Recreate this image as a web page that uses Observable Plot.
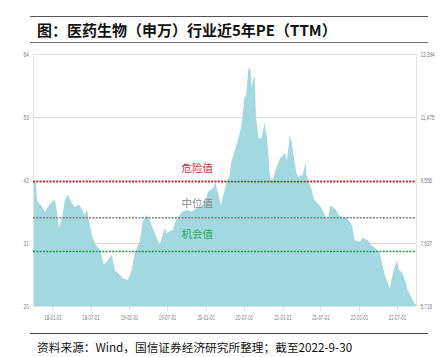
<!DOCTYPE html>
<html><head><meta charset="utf-8">
<script src="https://cdn.jsdelivr.net/npm/d3@7"></script>
<script src="https://cdn.jsdelivr.net/npm/@observablehq/plot@0.6"></script>
<style>
html,body{margin:0;padding:0;background:#fff;}
#wrap{position:relative;width:443px;height:357px;overflow:hidden;font-family:"Noto Sans CJK SC","Noto Sans",sans-serif;}
#title{position:absolute;left:30px;top:16px;width:398px;height:27px;border-top:1px solid #555;border-bottom:1.5px solid #777;box-sizing:border-box;}
#title span{position:absolute;left:7px;top:3px;font-size:15px;font-weight:bold;color:#111;white-space:nowrap;line-height:20px;}
#chart{position:absolute;left:0;top:46px;}
#cap{position:absolute;left:30px;top:333px;width:398px;border-top:1px solid #444;}
#cap span{position:absolute;left:7px;top:5px;font-size:11.7px;color:#111;white-space:nowrap;line-height:15px;}
</style></head>
<body><div id="wrap">
<div id="title"><span>图：医药生物（申万）行业近5年PE（TTM）</span></div>
<div id="chart"></div>
<div id="cap"><span>资料来源：Wind，国信证券经济研究所整理；截至2022-9-30</span></div>
</div>
<script>
const dates = ["2017-09-30","2017-10-14","2017-10-19","2017-10-28","2017-11-12","2017-11-26","2017-12-10","2017-12-29","2018-01-13","2018-01-23","2018-02-01","2018-02-16","2018-03-01","2018-03-15","2018-04-03","2018-04-17","2018-05-01","2018-05-10","2018-06-04","2018-06-14","2018-07-07","2018-07-26","2018-08-15","2018-09-03","2018-09-15","2018-10-11","2018-10-25","2018-11-18","2018-11-30","2018-12-26","2019-01-14","2019-01-26","2019-02-22","2019-03-07","2019-03-26","2019-04-09","2019-05-03","2019-05-27","2019-06-20","2019-06-29","2019-07-28","2019-08-10","2019-08-31","2019-09-09","2019-10-08","2019-10-24","2019-11-20","2019-12-05","2019-12-28","2020-01-12","2020-02-06","2020-02-18","2020-02-21","2020-03-08","2020-03-14","2020-04-01","2020-04-11","2020-04-25","2020-05-01","2020-05-18","2020-06-12","2020-06-22","2020-07-05","2020-07-11","2020-07-24","2020-08-02","2020-08-06","2020-08-22","2020-08-28","2020-09-10","2020-09-23","2020-10-09","2020-10-15","2020-10-18","2020-11-02","2020-11-11","2020-12-05","2020-12-21","2021-01-13","2021-01-23","2021-02-06","2021-02-14","2021-03-09","2021-03-19","2021-04-08","2021-04-22","2021-04-25","2021-05-20","2021-06-02","2021-06-27","2021-07-10","2021-08-05","2021-08-18","2021-09-13","2021-09-26","2021-10-20","2021-11-02","2021-11-29","2021-12-12","2022-01-06","2022-01-19","2022-02-13","2022-02-26","2022-03-21","2022-04-10","2022-05-04","2022-05-28","2022-06-10","2022-07-01","2022-07-10","2022-07-26","2022-08-11","2022-08-21","2022-09-25","2022-09-30"];
const pe = [42.5,41.5,38.5,38.0,37.3,36.4,37.3,38.2,38.5,36.2,33.6,35.5,38.5,39.4,38.0,37.3,37.6,37.6,35.9,36.8,32.4,30.7,29.8,27.2,27.7,28.9,26.3,25.4,24.9,24.5,26.3,28.9,31.5,34.7,35.9,35.0,32.7,30.7,33.6,32.7,33.3,34.7,35.9,36.4,36.8,36.4,37.1,37.3,38.0,39.9,40.6,41.7,40.8,38.5,37.6,40.3,41.5,42.9,45.0,46.9,50.2,52.1,56.8,56.3,61.7,61.2,58.2,60.3,53.0,49.3,49.3,52.1,49.9,50.2,42.9,41.5,44.3,45.8,46.7,45.5,49.9,48.5,43.2,42.5,42.9,45.1,42.9,40.3,38.5,37.6,36.8,35.0,37.6,36.8,35.9,35.4,35.4,34.1,31.5,31.2,31.9,31.5,30.7,30.1,29.3,25.4,23.1,25.4,28.0,26.3,25.8,24.2,22.8,20.2,20.5];

const yTicks = [20, 31, 42, 53, 64];
const rightTickLabels = ["5,718", "7,637", "9,556", "11,475", "13,394"];
const xTickDates = ["2018-01-01","2018-07-01","2019-01-01","2019-07-01","2020-01-01","2020-07-01","2021-01-01","2021-07-01","2022-01-01","2022-07-01"];
const xTickLabels = ["18-01-01","18-07-01","19-01-01","19-07-01","20-01-01","20-07-01","21-01-01","21-07-01","22-01-01","22-07-01"];
const refNames = ["危险值", "中位值", "机会值"];
const refValues = [41.8, 35.5, 29.6];
const xDomain = ["2017-09-30", "2022-09-30"];
const labelDate = "2019-11-20";

const parse = d3.utcParse("%Y-%m-%d");
const data = dates.map((d, i) => ({date: parse(d), pe: pe[i]}));
const refs = refNames.map((n, i) => ({name: n, value: refValues[i], date: parse(labelDate)}));
const xt = xTickDates.map(parse);
const lineColors = ["#c0272d", "#7f7f7f", "#1e9a4c"];
const textColors = ["#d4333a", "#8a8a8a", "#2aa85a"];
const labelDy = [-13, -14, -17];
const tickFont = "'Liberation Sans',sans-serif";

const chart = Plot.plot({
  width: 443, height: 286,
  marginLeft: 33, marginRight: 27, marginTop: 8, marginBottom: 26,
  style: {fontFamily: tickFont, fontSize: "8px", background: "#fff"},
  x: {type: "utc", domain: xDomain.map(parse)},
  y: {domain: [yTicks[0], yTicks[yTicks.length - 1]]},
  marks: [
    Plot.gridY(yTicks, {stroke: "#dcdcdc", strokeOpacity: 1}),
    Plot.areaY(data, {x: "date", y1: yTicks[0], y2: "pe", fill: "#a2d8df", curve: "linear"}),
    Plot.frame({stroke: "#e2e2e2"}),
    Plot.ruleY(refs, {y: "value", stroke: (d) => lineColors[refNames.indexOf(d.name)], strokeWidth: 1.6, strokeDasharray: "2,1.3"}),
    ...refs.map((r, i) => Plot.text([r], {x: "date", y: "value", text: "name", fill: textColors[i], dy: labelDy[i], fontSize: 10.5, fontFamily: "'Noto Sans CJK SC',sans-serif"})),
    Plot.axisY(yTicks, {anchor: "left", tickSize: 0, tickPadding: 5, color: "#7a7a7a", fontSize: 8}),
    Plot.axisY(yTicks, {anchor: "right", tickSize: 0, tickPadding: 4, color: "#7a7a7a", fontSize: 8, tickFormat: (d) => rightTickLabels[yTicks.indexOf(d)]}),
    Plot.axisX(xt, {tickSize: 5, tickPadding: 3, stroke: "#d8d8d8", fill: "#7a7a7a", fontSize: 7.5, tickFormat: (d) => xTickLabels[xt.findIndex(t => +t === +d)]})
  ]
});
document.getElementById("chart").append(chart);

// condense the tick labels horizontally, like the narrow font of the reference
chart.querySelectorAll("text").forEach(el => {
  if (refNames.includes(el.textContent)) return;
  const b = el.getBBox();
  const anchor = getComputedStyle(el).textAnchor;
  const cx = anchor === "end" ? b.x + b.width : anchor === "middle" ? b.x + b.width / 2 : b.x;
  const t = el.getAttribute("transform") || "";
  el.setAttribute("transform", `${t} translate(${cx},0) scale(0.58,1) translate(${-cx},0)`);
});
</script>
</body></html>
